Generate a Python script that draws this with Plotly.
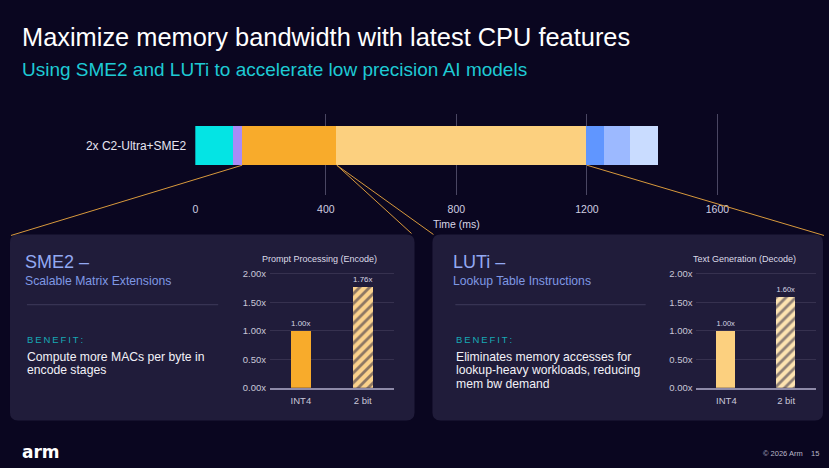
import plotly.graph_objects as go

W, H = 829, 468

# ---------------- data ----------------
timeline_label = "2x C2-Ultra+SME2"
segment_ms = [115, 29, 289, 765, 56, 79, 85]
segment_colors = ["#04e4e4", "#a98cf7", "#f8ab2b", "#fcd07f", "#6096ff", "#9cb9ff", "#c9dcff"]
time_ticks = [0, 400, 800, 1200, 1600]

categories = ["INT4", "2 bit"]
encode_speedup = [1.00, 1.76]
decode_speedup = [1.00, 1.60]
speed_ticks = [0.0, 0.5, 1.0, 1.5, 2.0]
speed_ticktext = [f"{v:.2f}x" for v in speed_ticks]

BG = "#0a0620"
PANEL = "#201c3a"
FONT = "Liberation Sans, Arial, sans-serif"


def px(x):
    return x / W


def py(y):
    return 1 - y / H


fig = go.Figure()

# ---------------- top stacked timeline ----------------
for v, c in zip(segment_ms, segment_colors):
    fig.add_trace(go.Bar(
        x=[v], y=[0.61], orientation="h", width=0.488,
        marker=dict(color=c, line=dict(width=0)),
        xaxis="x", yaxis="y", showlegend=False, hoverinfo="x",
    ))


# ---------------- small bar charts ----------------
def speed_bars(vals, solid, stripe, xa, ya):
    labels = [f"{v:.2f}x" for v in vals]
    common = dict(width=0.32, textposition="outside",
                  textfont=dict(color="#d8d6e4", size=8.5, family=FONT),
                  cliponaxis=False, xaxis=xa, yaxis=ya, showlegend=False)
    solid_tr = go.Bar(x=categories[:1], y=vals[:1], text=labels[:1],
                      marker=dict(color=solid, line=dict(width=0)), **common)
    hatch_tr = go.Bar(x=categories[1:], y=vals[1:], text=labels[1:],
                      marker=dict(color=stripe, line=dict(width=0),
                                  pattern=dict(shape="/", fgcolor=PANEL, bgcolor=stripe,
                                               size=7, solidity=0.4)),
                      **common)
    return [solid_tr, hatch_tr]


for tr in speed_bars(encode_speedup, "#f8ab2b", "#fbd28c", "x2", "y2"):
    fig.add_trace(tr)
for tr in speed_bars(decode_speedup, "#fcd07f", "#fde3b0", "x3", "y3"):
    fig.add_trace(tr)

tickfont_small = dict(color="#c9c7d8", size=9.5, family=FONT)
xsmall = dict(showgrid=False, showline=True, linecolor="#8e8aa8", linewidth=1.5,
              tickfont=tickfont_small, ticks="", categoryorder="array",
              categoryarray=categories, ticklabelstandoff=3)
ysmall = dict(domain=[py(392), py(271)], range=[0, 2.1], tickvals=speed_ticks,
              ticktext=speed_ticktext, showgrid=True, gridcolor="#36314f",
              zeroline=False, tickfont=tickfont_small, ticks="",
              ticklabelstandoff=3)

fig.update_layout(
    width=W, height=H, margin=dict(l=0, r=0, t=0, b=0),
    paper_bgcolor=BG, plot_bgcolor="rgba(0,0,0,0)",
    barmode="stack", bargap=0,
    font=dict(family=FONT, color="white"),
    xaxis=dict(domain=[px(193), px(782.5)], range=[0, 1800], tickvals=time_ticks,
               showgrid=True, gridcolor="#4a4662", gridwidth=1, zeroline=False,
               tickfont=dict(color="#d0cee0", size=10.5, family=FONT), ticks="",
               ticklabelstandoff=7, anchor="y"),
    yaxis=dict(domain=[py(197), py(115)], range=[0, 1], tickvals=[0.61],
               ticktext=[timeline_label], showgrid=False, zeroline=False,
               tickfont=dict(color="#e6e4f0", size=12, family=FONT), ticks="",
               ticklabelstandoff=8, anchor="x"),
    xaxis2=dict(domain=[px(268), px(392)], anchor="y2", **xsmall),
    yaxis2=dict(anchor="x2", **ysmall),
    xaxis3=dict(domain=[px(696), px(816)], anchor="y3", **xsmall),
    yaxis3=dict(anchor="x3", **ysmall),
)


# ---------------- panels (rounded rectangles) ----------------
def rounded(x0, y0, x1, y1, r):
    rx, ry = r / W, r / H
    X0, X1 = px(x0), px(x1)
    Y0, Y1 = py(y0), py(y1)  # Y0 top, Y1 bottom
    return (f"M {X0+rx},{Y0} L {X1-rx},{Y0} Q {X1},{Y0} {X1},{Y0-ry} "
            f"L {X1},{Y1+ry} Q {X1},{Y1} {X1-rx},{Y1} L {X0+rx},{Y1} "
            f"Q {X0},{Y1} {X0},{Y1+ry} L {X0},{Y0-ry} Q {X0},{Y0} {X0+rx},{Y0} Z")


shapes = []
for (x0, x1) in [(7, 413), (431, 823)]:
    shapes.append(dict(type="path", xref="paper", yref="paper",
                       path=rounded(x0, 237, x1, 425, 8),
                       fillcolor=PANEL, line=dict(width=0), layer="below"))

# connector lines
for (xa, ya, xb, yb) in [(240, 167, 8, 238), (335, 167, 410, 236),
                         (335, 167, 432, 237), (586, 167, 824, 238)]:
    shapes.append(dict(type="line", xref="paper", yref="paper",
                       x0=px(xa), y0=py(ya), x1=px(xb), y1=py(yb),
                       line=dict(color="#d8993c", width=1), layer="above"))

# separators in panels
for (x0, x1) in [(24, 216), (454, 645)]:
    shapes.append(dict(type="line", xref="paper", yref="paper",
                       x0=px(x0), y0=py(308), x1=px(x1), y1=py(308),
                       line=dict(color="#3e3a5a", width=1)))
fig.update_layout(shapes=shapes)

# ---------------- texts ----------------
ann = []


def txt(x, y, s, size, color, xanchor="left", yanchor="middle", family=FONT):
    if xanchor == "left":
        x -= 3
    elif xanchor == "right":
        x += 3
    ann.append(dict(x=px(x), y=py(y), xref="paper", yref="paper", text=s,
                    showarrow=False, xanchor=xanchor, yanchor=yanchor,
                    align="left" if xanchor == "left" else "center",
                    font=dict(size=size, color=color, family=family)))


TS = "&#8201;"
benefit = TS.join(list("BENEFIT:"))

txt(20, 37, "Maximize memory bandwidth with latest CPU features", 25.4, "#ffffff")
txt(20, 70, "Using SME2 and LUTi to accelerate low precision AI models", 19, "#1ecad4")
txt(455, 226, "Time (ms)", 10.5, "#d8d6e6", xanchor="center")

# left panel
txt(23, 265, "SME2 –", 18, "#93a9f2")
txt(23, 284, "Scalable Matrix Extensions", 12.2, "#7f98e4")
txt(25, 343, benefit, 9.5, "#17a9b5")
for i, line in enumerate(["Compute more MACs per byte in", "encode stages"]):
    txt(25, 361 + 13.5 * i, line, 12.2, "#f2f1f7")
txt(318, 262, "Prompt Processing (Encode)", 9, "#dddbe8", xanchor="center")

# right panel
txt(453, 265, "LUTi –", 18, "#93a9f2")
txt(453, 284, "Lookup Table Instructions", 12.2, "#7f98e4")
txt(456, 343, benefit, 9.5, "#17a9b5")
for i, line in enumerate(["Eliminates memory accesses for",
                          "lookup-heavy workloads, reducing", "mem bw demand"]):
    txt(456, 361 + 13.5 * i, line, 12.2, "#f2f1f7")
txt(744, 262, "Text Generation (Decode)", 9, "#dddbe8", xanchor="center")

# footer
txt(20, 457, "<b>arm</b>", 17, "#ffffff", family="DejaVu Sans, sans-serif")
txt(818, 458, "© 2026 Arm &nbsp;&nbsp; 15", 7.5, "#b8b6c8", xanchor="right")

fig.update_layout(annotations=ann)

fig.write_html(
    "out.html",
    config={"displayModeBar": False},
    post_script=("document.body.style.margin='0';"
                 "document.body.style.background='%s';"
                 "document.documentElement.style.background='%s';"
                 "document.body.style.overflow='hidden';"
                 "document.documentElement.style.overflow='hidden';") % (BG, BG),
)
